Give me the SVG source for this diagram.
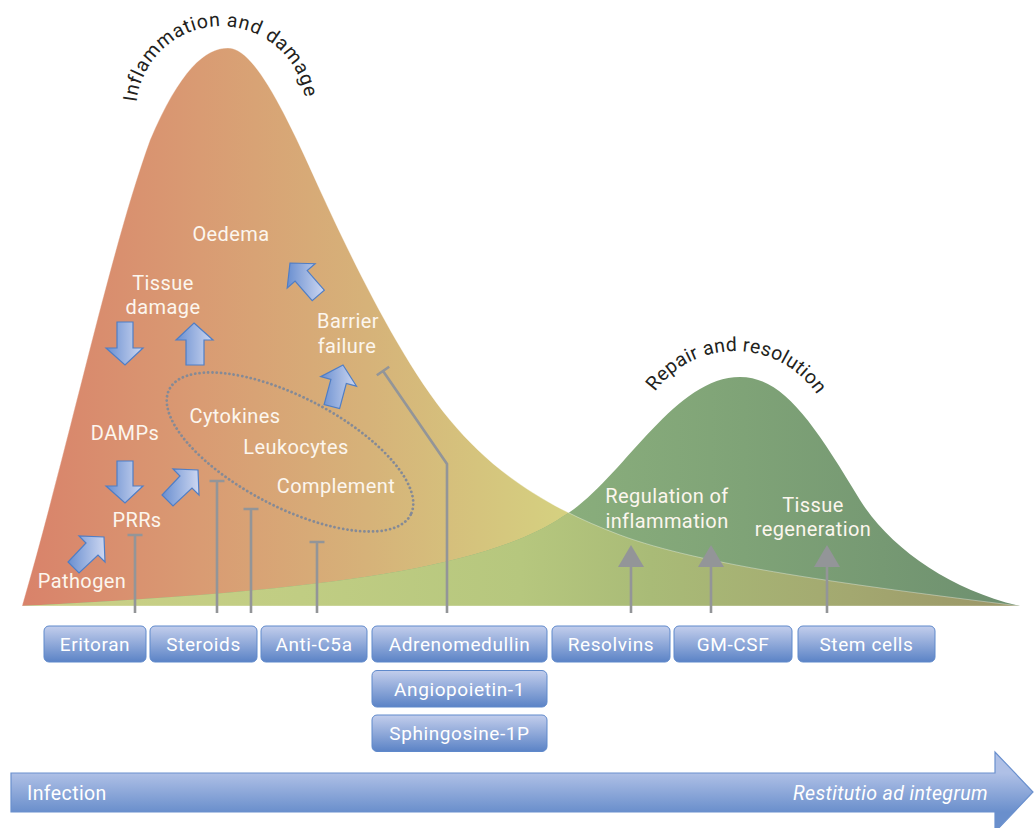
<svg xmlns="http://www.w3.org/2000/svg" width="1036" height="828" viewBox="0 0 1036 828">
  <defs>
    <style>
      .lbl { font-family: Roboto, "Liberation Sans", sans-serif; font-size: 20px; fill: #FCF6EE; letter-spacing: 0.4px; text-anchor: middle; }
      .head { font-family: Roboto, "Liberation Sans", sans-serif; font-size: 19.5px; fill: #231F20; letter-spacing: 0.3px; }
      .box rect { fill: url(#boxGrad); stroke: #5F89CB; stroke-width: 1; }
      .box text { font-family: Roboto, "Liberation Sans", sans-serif; font-size: 19px; fill: #FFFFFF; letter-spacing: 0.6px; text-anchor: middle; }
      .inhib { fill: none; stroke: #939598; stroke-width: 2.6; stroke-linejoin: miter; }
      .promote line { stroke: #939598; stroke-width: 2.6; }
      .promote polygon { fill: #939598; }
      .blk { fill: url(#arrowGrad); stroke: #4F7EC6; stroke-width: 1.2; stroke-linejoin: miter; }
    </style>
    <linearGradient id="redGrad" gradientUnits="userSpaceOnUse" x1="22" y1="0" x2="560" y2="0">
      <stop offset="0" stop-color="#D9826A"/>
      <stop offset="0.33" stop-color="#D99B73"/>
      <stop offset="0.64" stop-color="#D6B279"/>
      <stop offset="0.85" stop-color="#D5C47D"/>
      <stop offset="1" stop-color="#D5D080"/>
    </linearGradient>
    <linearGradient id="greenGrad" gradientUnits="userSpaceOnUse" x1="560" y1="0" x2="1020" y2="0">
      <stop offset="0" stop-color="#8AAE7C"/>
      <stop offset="0.4" stop-color="#7FA377"/>
      <stop offset="1" stop-color="#6D8F6F"/>
    </linearGradient>
    <linearGradient id="overlapGrad" gradientUnits="userSpaceOnUse" x1="22" y1="0" x2="1020" y2="0">
      <stop offset="0" stop-color="#CCD087"/>
      <stop offset="0.28" stop-color="#C0CD83"/>
      <stop offset="0.5" stop-color="#B6C77E"/>
      <stop offset="0.63" stop-color="#A9BB77"/>
      <stop offset="0.83" stop-color="#A3A870"/>
      <stop offset="1" stop-color="#9A9567"/>
    </linearGradient>
    <linearGradient id="boxGrad" x1="0" y1="0" x2="0" y2="1">
      <stop offset="0" stop-color="#C3CEEC"/>
      <stop offset="1" stop-color="#5B83C6"/>
    </linearGradient>
    <linearGradient id="arrowGrad" x1="0" y1="0" x2="1" y2="0">
      <stop offset="0" stop-color="#6A8FD0"/>
      <stop offset="1" stop-color="#CDD7F1"/>
    </linearGradient>
    <linearGradient id="bigGrad" gradientUnits="userSpaceOnUse" x1="0" y1="773" x2="0" y2="812">
      <stop offset="0" stop-color="#AFC0E6"/>
      <stop offset="1" stop-color="#6A8FCC"/>
    </linearGradient>
    <!-- curve outlines shared by fills and the overlap clip -->
    <path id="redCurve" d="M22,606 C70,440 110,250 150,140 C180,70 205,48 228,48 C252,48 280,100 320,190 C350,255 400,360 450,420 C490,468 540,505 620,535 C700,565 850,585 1020,606 Z"/>
    <path id="greenCurve" d="M22,606 C300,592 480,572 562,517 C620,484 672,377 740,377 C782,377 812,420 860,500 C890,548 950,590 1020,606 Z"/>
    <clipPath id="redClip"><use href="#redCurve"/></clipPath>
    <path id="arcInfl" d="M136,111.2 A85,85 0 0 1 306,111.2"/>
    <path id="arcRepair" d="M636,450 A99,99 0 0 1 834,450"/>
  </defs>

  <!-- background curves -->
  <g id="curves">
    <use href="#redCurve" fill="url(#redGrad)"/>
    <use href="#greenCurve" fill="url(#greenGrad)"/>
    <g clip-path="url(#redClip)">
      <use href="#greenCurve" fill="url(#overlapGrad)"/>
    </g>
    <use href="#redCurve" fill="none" stroke="#FFFFFF" stroke-opacity="0.35" stroke-width="1"/>
  </g>

  <!-- curve titles -->
  <g id="titles">
    <text class="head"><textPath href="#arcInfl" startOffset="9" textLength="244" lengthAdjust="spacing">Inflammation and damage</textPath></text>
    <text class="head"><textPath href="#arcRepair" startOffset="62" textLength="190" lengthAdjust="spacing">Repair and resolution</textPath></text>
  </g>

  <!-- process labels -->
  <g id="node-oedema"><text class="lbl" x="231" y="241">Oedema</text></g>
  <g id="node-tissue-damage"><text class="lbl" x="163" y="290">Tissue</text><text class="lbl" x="163" y="314">damage</text></g>
  <g id="node-barrier"><text class="lbl" x="348" y="328">Barrier</text><text class="lbl" x="347" y="353">failure</text></g>
  <g id="node-damps"><text class="lbl" x="125" y="440">DAMPs</text></g>
  <g id="node-prrs"><text class="lbl" x="137" y="527">PRRs</text></g>
  <g id="node-pathogen"><text class="lbl" x="82" y="588">Pathogen</text></g>
  <g id="node-mediators">
    <ellipse cx="290" cy="452" rx="136" ry="55" transform="rotate(27.5 290 452)" fill="none" stroke="#858A96" stroke-width="2.8" stroke-linecap="round" stroke-dasharray="0.01 4.3"/>
    <text class="lbl" x="235" y="423">Cytokines</text>
    <text class="lbl" x="296" y="454">Leukocytes</text>
    <text class="lbl" x="336" y="493">Complement</text>
  </g>
  <g id="node-regulation"><text class="lbl" x="667" y="503">Regulation of</text><text class="lbl" x="667" y="528">inflammation</text></g>
  <g id="node-regeneration"><text class="lbl" x="813" y="512">Tissue</text><text class="lbl" x="813" y="536">regeneration</text></g>

  <!-- connectors: block arrows, inhibitors, promoters -->
  <g id="connectors">
    <polygon class="blk" points="117,322 133,322 133,348 143,348 125,365 106,348 117,348"/>
    <polygon class="blk" points="194,323 213,340 204,340 204,365 186,365 186,340 176,340"/>
    <polygon class="blk" points="117,461 133,461 133,486 143,486 125,503 106,486 117,486"/>
    <polygon class="blk" points="198,470 199,495 192,488 173,506 162,495 180,476 173,469"/>
    <polygon class="blk" points="104,537 105,562 98,555 79,573 68,562 86,543 79,536"/>
    <polygon class="blk" points="343,365 356.5,386.2 346.3,383.5 339.6,408.6 324.1,404.5 330.9,379.4 320.7,376.6"/>
    <polygon class="blk" points="290,263 315.1,263.7 307.2,270.6 324.3,290.2 312.2,300.7 295.1,281.1 287.2,288"/>

    <path class="inhib" d="M135,613 V535 M127.5,535 H142.5"/>
    <path class="inhib" d="M217,613 V481 M209.5,481 H224.5"/>
    <path class="inhib" d="M251,613 V509 M243.5,509 H258.5"/>
    <path class="inhib" d="M317,613 V542 M309.5,542 H324.5"/>
    <path class="inhib" d="M447,613 V464 L383,371 M389.2,366.7 L376.8,375.3"/>

    <g class="promote">
      <line x1="631" y1="566" x2="631" y2="613"/><polygon points="631,545 644,567 618,567"/>
      <line x1="711" y1="566" x2="711" y2="613"/><polygon points="711,545 724,567 698,567"/>
      <line x1="827" y1="566" x2="827" y2="613"/><polygon points="827,545 840,567 814,567"/>
    </g>
  </g>

  <!-- therapy boxes -->
  <g id="box-eritoran" class="box"><rect x="44" y="626" width="102" height="36" rx="5"/><text x="95" y="650.5">Eritoran</text></g>
  <g id="box-steroids" class="box"><rect x="150" y="626" width="107" height="36" rx="5"/><text x="203.5" y="650.5">Steroids</text></g>
  <g id="box-antic5a" class="box"><rect x="261" y="626" width="106" height="36" rx="5"/><text x="314" y="650.5">Anti-C5a</text></g>
  <g id="box-adrenomedullin" class="box"><rect x="372" y="626" width="175" height="36" rx="5"/><text x="459.5" y="650.5">Adrenomedullin</text></g>
  <g id="box-angiopoietin" class="box"><rect x="372" y="670.5" width="175" height="36.5" rx="5"/><text x="459.5" y="695.5">Angiopoietin-1</text></g>
  <g id="box-sphingosine" class="box"><rect x="372" y="715" width="175" height="36.5" rx="5"/><text x="459.5" y="740">Sphingosine-1P</text></g>
  <g id="box-resolvins" class="box"><rect x="552" y="626" width="118" height="36" rx="5"/><text x="611" y="650.5">Resolvins</text></g>
  <g id="box-gmcsf" class="box"><rect x="674" y="626" width="118" height="36" rx="5"/><text x="733" y="650.5">GM-CSF</text></g>
  <g id="box-stemcells" class="box"><rect x="798" y="626" width="137" height="36" rx="5"/><text x="866.5" y="650.5">Stem cells</text></g>

  <!-- time axis -->
  <g id="time-axis">
    <path d="M11,773 L995,773 L995,752 L1033,792 L995,832 L995,812 L11,812 Z" fill="url(#bigGrad)" stroke="#6A90CE" stroke-width="1.2"/>
    <text x="27" y="800" font-family="Roboto, 'Liberation Sans', sans-serif" font-size="19.5" fill="#FFFFFF" letter-spacing="0.4">Infection</text>
    <text x="988" y="800" font-family="Roboto, 'Liberation Sans', sans-serif" font-size="19.5" font-style="italic" fill="#FFFFFF" letter-spacing="0.4" text-anchor="end">Restitutio ad integrum</text>
  </g>
</svg>
